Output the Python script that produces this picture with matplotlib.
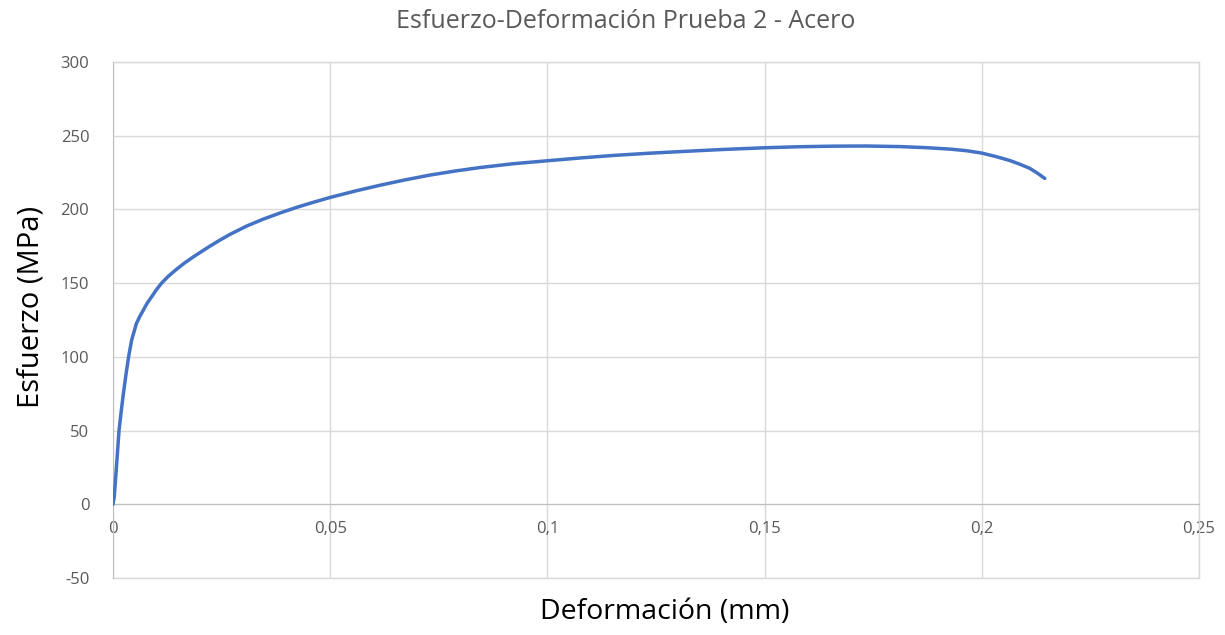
import matplotlib
matplotlib.use("Agg")
import matplotlib.pyplot as plt
from matplotlib.ticker import FuncFormatter

# Datos (deformacion, esfuerzo en MPa)
deformacion = [0.0, 0.0003, 0.0008, 0.0014, 0.0019, 0.0024, 0.003, 0.0036,
               0.0043, 0.0054, 0.0062, 0.007, 0.0079, 0.0089, 0.01, 0.0112,
               0.0128, 0.0146, 0.0165, 0.0184, 0.0219, 0.0244, 0.0269, 0.0307,
               0.0346, 0.0385, 0.0423, 0.0462, 0.0501, 0.0558, 0.0615, 0.0672,
               0.073, 0.0787, 0.0845, 0.0922, 0.1, 0.1076, 0.1152, 0.1228,
               0.1305, 0.14, 0.15, 0.1579, 0.1658, 0.1735, 0.1812, 0.187,
               0.1927, 0.1965, 0.2, 0.2033, 0.2065, 0.2088, 0.211, 0.2128, 0.2145]
esfuerzo = [0.0, 5.0, 25.0, 50.0, 63.0, 75.0, 88.0, 100.0,
            111.3, 122.6, 127.5, 131.7, 136.5, 140.7, 145.5, 150.0,
            154.8, 159.3, 163.7, 167.6, 174.3, 178.8, 183.0, 188.6,
            193.4, 197.6, 201.4, 204.9, 208.2, 212.5, 216.4, 220.0,
            223.3, 226.0, 228.4, 231.0, 233.0, 234.9, 236.6, 238.0,
            239.2, 240.6, 241.8, 242.5, 242.9, 243.0, 242.6, 241.9,
            240.9, 239.8, 238.2, 235.8, 233.1, 230.6, 227.9, 224.6, 221.0]

x_ticks = [0, 0.05, 0.1, 0.15, 0.2, 0.25]
y_ticks = [-50, 0, 50, 100, 150, 200, 250, 300]

plt.rcParams["font.family"] = ["Open Sans", "DejaVu Sans"]
plt.rcParams["axes.unicode_minus"] = False

fig = plt.figure(figsize=(12.25, 6.35), dpi=100)
ax = fig.add_axes([0.0922, 0.0898, 0.8866, 0.8126])

ax.plot(deformacion, esfuerzo, color="#4472C4", lw=2.5,
        solid_capstyle="round", solid_joinstyle="round", zorder=3)

ax.set_xlim(0, 0.25)
ax.set_ylim(-50, 300)
ax.set_xticks(x_ticks)
ax.set_yticks(y_ticks)

fmt = FuncFormatter(lambda v, p: ("%g" % v).replace(".", ","))
ax.xaxis.set_major_formatter(fmt)

ax.grid(True, color="#d9d9d9", lw=1.0)
ax.set_axisbelow(True)
for s in ["top", "right"]:
    ax.spines[s].set_visible(False)
ax.spines["bottom"].set_position(("data", 0))
ax.spines["bottom"].set_color("#bfbfbf")
ax.spines["left"].set_color("#bfbfbf")
ax.axhline(-50, color="#d9d9d9", lw=1.0, zorder=1, clip_on=False)
ax.axhline(300, color="#d9d9d9", lw=1.0, zorder=1, clip_on=False)
ax.axvline(0.25, color="#d9d9d9", lw=1.0, zorder=1, clip_on=False)

ax.tick_params(length=0, labelsize=12, labelcolor="#595959")
ax.tick_params(axis="x", pad=12)
ax.tick_params(axis="y", pad=17)

fig.text(0.511, 0.966, "Esfuerzo-Deformación Prueba 2 - Acero", fontsize=18,
         color="#595959", ha="center", va="center")
fig.text(0.543, 0.036, "Deformación (mm)", fontsize=20.5, ha="center", va="center")
fig.text(0.025, 0.516, "Esfuerzo (MPa)", fontsize=21, ha="center", va="center", rotation=90)

fig.savefig("out.png", dpi=100)
